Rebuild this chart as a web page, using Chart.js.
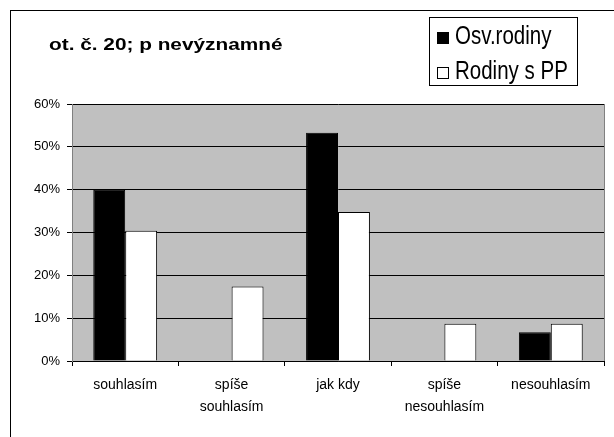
<!DOCTYPE html>
<html>
<head>
<meta charset="utf-8">
<script src="https://cdn.jsdelivr.net/npm/chart.js@4"></script>
<style>
  body { margin: 0; background: #fff; }
  canvas { display: block; }
</style>
</head>
<body>
<canvas id="chart" width="614" height="437"></canvas>
<script>
let categories = ['souhlasím', ['spíše', 'souhlasím'], 'jak kdy', ['spíše', 'nesouhlasím'], 'nesouhlasím']
let seriesNames = ['Osv.rodiny', 'Rodiny s PP']
let osvRodiny = [40, 0, 53.3, 0, 6.7]
let rodinySPP = [30.4, 17.4, 34.8, 8.7, 8.7]
let titleText = 'ot. č. 20; p nevýznamné'

// frame, grey plot background, title and legend box
let decor = {
    id: 'decor',
    beforeDraw(chart) {
        let c = chart.ctx
        let a = chart.chartArea
        c.save()
        c.fillStyle = '#fff'
        c.fillRect(0, 0, chart.width, chart.height)
        c.fillStyle = '#c0c0c0'
        c.fillRect(a.left, a.top, a.right - a.left, a.bottom - a.top)
        c.restore()
    },
    afterDraw(chart) {
        let c = chart.ctx
        let a = chart.chartArea
        c.save()
        c.strokeStyle = '#808080'
        c.lineWidth = 1
        c.beginPath()
        c.moveTo(a.right + 0.5, a.top)
        c.lineTo(a.right + 0.5, a.bottom)
        c.stroke()

        c.strokeStyle = '#000'
        c.strokeRect(10.5, 10.5, 620, 440)

        // title, a bit stretched like the original
        c.fillStyle = '#000'
        c.font = 'bold 16px "Liberation Sans", Arial, sans-serif'
        c.textBaseline = 'alphabetic'
        c.save()
        c.translate(49, 50)
        c.scale(1.3, 1)
        c.fillText(titleText, 0, 0)
        c.restore()

        // legend
        c.fillStyle = '#fff'
        c.fillRect(429.5, 17.5, 148, 68)
        c.strokeStyle = '#000'
        c.strokeRect(429.5, 17.5, 148, 68)
        let rows = [44, 79]
        chart.data.datasets.forEach((ds, i) => {
            let y = rows[i]
            c.fillStyle = ds.backgroundColor
            c.fillRect(437.5, y - 11.5, 11, 11)
            c.strokeStyle = '#000'
            c.strokeRect(437.5, y - 11.5, 11, 11)
            c.fillStyle = '#000'
            c.font = '25px "Liberation Sans", Arial, sans-serif'
            c.save()
            c.translate(455, y)
            c.scale(0.82, 1)
            c.fillText(ds.label, 0, 0)
            c.restore()
        })
        c.restore()
    }
}

let ctx = document.getElementById('chart').getContext('2d')
let chart = new Chart(ctx, {
    type: 'bar',
    data: {
        labels: categories,
        datasets: [{
            label: seriesNames[0],
            data: osvRodiny,
            backgroundColor: '#000',
            borderColor: '#000',
            borderWidth: 1
        }, {
            label: seriesNames[1],
            data: rodinySPP,
            backgroundColor: '#fff',
            borderColor: '#000',
            borderWidth: 1
        }]
    },
    options: {
        responsive: false,
        animation: false,
        categoryPercentage: 0.6,
        barPercentage: 1,
        layout: {
            padding: { top: 104, right: 10, left: 0, bottom: 0 }
        },
        plugins: {
            legend: { display: false },
            title: { display: false },
            tooltip: { enabled: false }
        },
        scales: {
            x: {
                afterFit(s) { s.height = 76 },
                grid: {
                    display: true,
                    offset: true,
                    drawOnChartArea: false,
                    drawTicks: true,
                    tickLength: 5,
                    color: '#000'
                },
                border: { color: '#000' },
                ticks: {
                    color: '#000',
                    padding: 8,
                    maxRotation: 0,
                    autoSkip: false,
                    font: { family: '"Liberation Sans", Arial, sans-serif', size: 14, lineHeight: 1.57 }
                }
            },
            y: {
                min: 0,
                max: 60,
                afterFit(s) { s.width = 72 },
                grid: {
                    color: '#000',
                    tickLength: 5,
                    drawTicks: true
                },
                border: { color: '#808080' },
                ticks: {
                    stepSize: 10,
                    color: '#000',
                    padding: 7,
                    font: { family: '"Liberation Sans", Arial, sans-serif', size: 13 },
                    callback: v => v + '%'
                }
            }
        }
    },
    plugins: [decor]
})
</script>
</body>
</html>
